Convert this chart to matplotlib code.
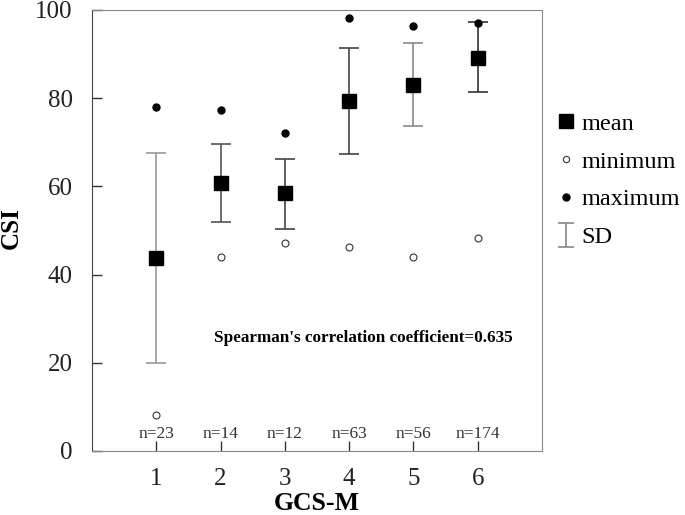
import matplotlib
matplotlib.use("Agg")
import matplotlib.pyplot as plt
from matplotlib.lines import Line2D

plt.rcParams['font.family'] = ['Liberation Serif', 'DejaVu Serif']

groups = [1, 2, 3, 4, 5, 6]
means = [43.8, 60.8, 58.5, 79.4, 83.1, 89.2]
sd_upper = [67.6, 69.6, 66.2, 91.4, 92.6, 97.2]
sd_lower = [20.0, 51.9, 50.3, 67.3, 73.6, 81.3]
maxima = [78.1, 77.3, 72.1, 98.1, 96.3, 97.1]
minima = [8.2, 44.1, 47.1, 46.3, 44.1, 48.2]
n_labels = ["n=23", "n=14", "n=12", "n=63", "n=56", "n=174"]
sd_colors = ["#9a9a9a", "#555555", "#444444", "#444444", "#8a8a8a", "#333333"]

fig = plt.figure(figsize=(6.85, 5.15), dpi=100)
ax = fig.add_axes([0.1343, 0.1243, 0.6570, 0.8563])

for g, lo, hi, c in zip(groups, sd_lower, sd_upper, sd_colors):
    ax.errorbar([g], [(lo + hi) / 2], yerr=[[(hi - lo) / 2], [(hi - lo) / 2]],
                fmt='none', ecolor=c, elinewidth=1.2, capsize=7, capthick=1.2, zorder=2)

ax.plot(groups, means, linestyle='none', marker='s', markersize=10.5,
        color='black', zorder=3)
ax.plot(groups, minima, linestyle='none', marker='o', markersize=5,
        markerfacecolor='white', markeredgecolor='#333333', markeredgewidth=0.8, zorder=3)
ax.plot(groups, maxima, linestyle='none', marker='o', markersize=5,
        color='black', zorder=3)

for g, lab in zip(groups, n_labels):
    ax.text(g, 2.0, lab, ha='center', va='bottom', fontsize=12.5, color='#333333')

ax.text(6.55, 25.6, "Spearman's correlation coefficient=0.635", ha='right', va='center',
        fontsize=12.3, fontweight='bold')

ax.set_xlim(0, 7)
ax.set_ylim(0, 100)
ax.set_xticks(groups)
ax.set_yticks([0, 20, 40, 60, 80, 100])
ax.tick_params(direction='in', length=7, width=1, labelsize=18, colors='#333333')
ax.tick_params(axis='both', labelcolor='#222222')
ax.tick_params(axis='y', pad=14)
ax.tick_params(axis='x', pad=12)
for side in ['top', 'right', 'bottom']:
    ax.spines[side].set_color('#888888')
ax.spines['left'].set_color('#444444')

ax.set_xlabel("GCS-M", fontsize=18.5, fontweight='bold', va='center')
ax.xaxis.set_label_coords(0.5, -0.118)
ax.set_ylabel("CSI", fontsize=18, fontweight='bold', va='center')
ax.yaxis.set_label_coords(-0.18, 0.506)

h_mean = Line2D([], [], linestyle='none', marker='s', markersize=10, color='black')
h_min = Line2D([], [], linestyle='none', marker='o', markersize=4.5,
               markerfacecolor='white', markeredgecolor='#333333', markeredgewidth=0.8)
h_max = Line2D([], [], linestyle='none', marker='o', markersize=5, color='black')
h_sd = ax.errorbar([-10], [-10], yerr=[1], fmt='none', ecolor='#888888', elinewidth=1.2,
                   capsize=6, capthick=1.2)
fig.legend([h_mean, h_min, h_max, h_sd], ["mean", "minimum", "maximum", "SD"],
           loc='upper left', bbox_to_anchor=(0.795, 0.80), frameon=False,
           fontsize=17.5, handlelength=1.0, handletextpad=0.1, labelspacing=0.65,
           borderaxespad=0)

fig.savefig("out.png", dpi=100)
